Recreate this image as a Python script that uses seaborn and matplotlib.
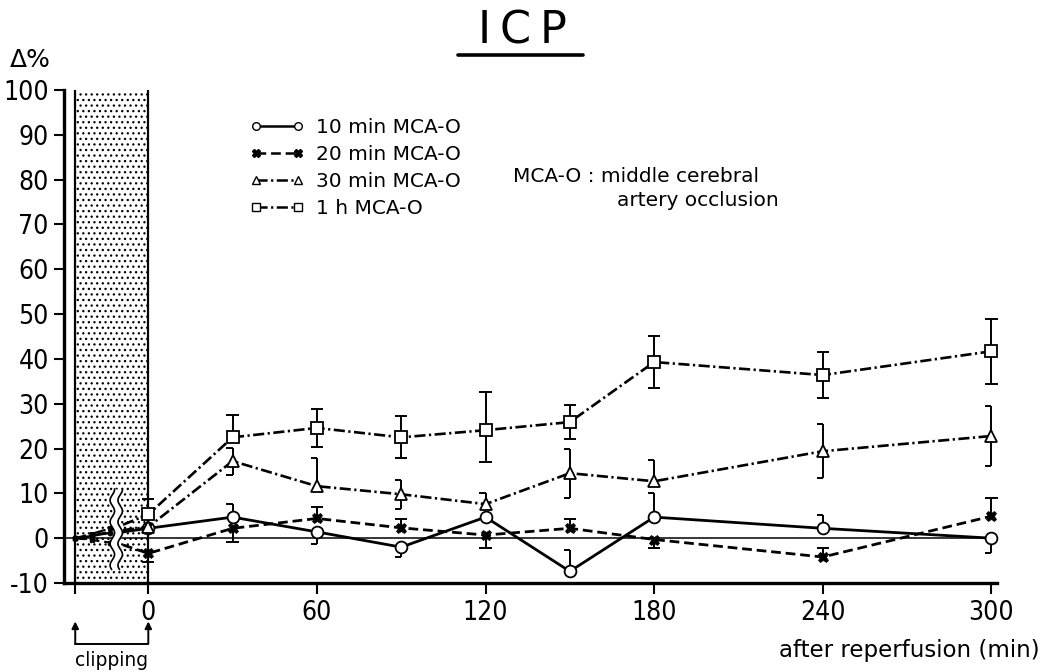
import numpy as np
import pandas as pd
import matplotlib
matplotlib.use("Agg")
import matplotlib.pyplot as plt
from matplotlib.lines import Line2D
import seaborn as sns

# Time after reperfusion (min)
minutes = [0, 30, 60, 90, 120, 150, 180, 240, 300]

# Mean change of intracranial pressure (%) by duration of MCA occlusion
icp_10min = [2.2, 4.7, 1.4, -2.0, 4.7, -7.4, 4.7, 2.2, 0.0]
icp_20min = [-3.4, 2.2, 4.4, 2.3, 0.7, 2.2, -0.3, -4.2, 4.9]
icp_30min = [2.5, 17.2, 11.6, 9.8, 7.6, 14.5, 12.7, 19.4, 22.8]
icp_1h = [5.3, 22.5, 24.6, 22.5, 24.1, 25.9, 39.3, 36.4, 41.7]

# Error bars (upper / lower extent, %)
err_10min_up = [0, 3.0, 0, 0, 0, 4.7, 5.3, 3.0, 0]
err_10min_dn = [0, 0, 2.7, 2.2, 0, 0, 0, 0, 3.4]
err_20min_up = [0, 0, 2.5, 2.0, 0, 2.0, 0, 2.0, 4.0]
err_20min_dn = [2.0, 3.0, 0, 0, 3.0, 0, 2.0, 0, 0]
err_30min_up = [0, 3.0, 6.3, 3.2, 2.4, 5.5, 4.7, 6.0, 6.8]
err_30min_dn = [0, 3.0, 0, 3.2, 0, 5.5, 0, 6.0, 6.8]
err_1h_up = [3.5, 5.0, 4.2, 4.7, 8.5, 3.8, 5.8, 5.1, 7.2]
err_1h_dn = [0, 0, 4.2, 4.7, 7.1, 3.8, 5.8, 5.1, 7.2]

# Clipping period (schematic time axis before reperfusion)
clip_start = -26
clip_minutes = [-26, -20, -13.5]
resume_minute = -9
clip_10min = [0, 0.5, 1.2]
clip_20min = [0, -0.4, -1.0]
clip_30min = [0, 0.6, 1.5]
clip_1h = [0, 1.0, 2.2]
resume_10min, resume_20min, resume_30min, resume_1h = 1.4, -1.5, 1.8, 3.0

labels = ["10 min MCA-O", "20 min MCA-O", "30 min MCA-O", "1 h MCA-O"]
x_ticks = [0, 60, 120, 180, 240, 300]
y_ticks = list(range(-10, 101, 10))

sns.set_theme(style="ticks")
plt.rcParams["font.family"] = ["DejaVu Sans"]
plt.rcParams["text.color"] = "black"
plt.rcParams["xtick.color"] = "black"
plt.rcParams["ytick.color"] = "black"
plt.rcParams["axes.edgecolor"] = "black"
plt.rcParams["lines.scale_dashes"] = False
plt.rcParams["hatch.linewidth"] = 0.9
plt.rcParams["hatch.color"] = "black"

W, H = 1046, 672
fig = plt.figure(figsize=(W / 100, H / 100), dpi=100)
ax = fig.add_axes([64 / W, 1 - 583 / H, (997 - 64) / W, (583 - 90) / H])
ax.set_xlim(-30, 302)
ax.set_ylim(-10, 100)

# stippled clipping band with its borders
ax.axvspan(clip_start, 0, facecolor="white", hatch="...", edgecolor="black",
           linewidth=0, zorder=0)
for xb in (clip_start, 0):
    ax.axvline(xb, color="black", lw=1.6, zorder=1)

# baseline at 0 %
ax.axhline(0, color="black", lw=1.1, zorder=1)

series = [
    dict(y=icp_10min, up=err_10min_up, dn=err_10min_dn, clip=clip_10min, resume=resume_10min,
         ls="-", marker="o", ms=8.5, mfc="white", mew=1.3, lw=2.0, cap="left"),
    dict(y=icp_20min, up=err_20min_up, dn=err_20min_dn, clip=clip_20min, resume=resume_20min,
         ls=(0, (7, 3.5)), marker="X", ms=7.5, mfc="black", mew=0.5, lw=2.0, cap="both"),
    dict(y=icp_30min, up=err_30min_up, dn=err_30min_dn, clip=clip_30min, resume=resume_30min,
         ls=(0, (8, 2.5, 1.6, 2.5)), marker="^", ms=8.5, mfc="white", mew=1.3, lw=1.9, cap="left"),
    dict(y=icp_1h, up=err_1h_up, dn=err_1h_dn, clip=clip_1h, resume=resume_1h,
         ls=(0, (8, 2.5, 1.6, 2.5)), marker="s", ms=8, mfc="white", mew=1.3, lw=1.9, cap="both"),
]

cap_w = 2.2
for s in series:
    # error bars
    for xv, yv, u, d in zip(minutes, s["y"], s["up"], s["dn"]):
        for e in (u, -d):
            if e == 0:
                continue
            ax.vlines(xv, yv, yv + e, color="black", lw=1.4, zorder=2, clip_on=False)
            if s["cap"] == "both":
                ax.hlines(yv + e, xv - cap_w, xv + cap_w, color="black", lw=1.4, zorder=2,
                          clip_on=False)
            else:
                ax.hlines(yv + e, xv - cap_w, xv, color="black", lw=1.4, zorder=2,
                          clip_on=False)

    # clipping phase
    sns.lineplot(x=clip_minutes, y=s["clip"], ax=ax, color="black", linestyle=s["ls"],
                 lw=s["lw"] * 0.8, marker=s["marker"], ms=3.5, mfc="black", mec="black",
                 errorbar=None, zorder=3)
    # after reperfusion
    xs = [resume_minute] + minutes
    ys = [s["resume"]] + s["y"]
    df = pd.DataFrame({"minute": xs, "icp": ys})
    sns.lineplot(data=df, x="minute", y="icp", ax=ax, color="black", linestyle=s["ls"],
                 lw=s["lw"], marker=s["marker"], ms=s["ms"], mfc=s["mfc"], mec="black",
                 mew=s["mew"], markevery=list(range(1, len(xs))), errorbar=None,
                 zorder=4, clip_on=False)

# wavy break marks in the clipping band
yy = np.linspace(-7, 11, 200)
wave = 0.8 * np.sin(yy * 1.3)
xl, xr = -12.8 + wave, -10.0 + wave
ax.fill_betweenx(yy, xl, xr, color="white", zorder=5, lw=0)
ax.plot(xl, yy, color="black", lw=1.2, zorder=6)
ax.plot(xr, yy, color="black", lw=1.2, zorder=6)

# axes styling
sns.despine(ax=ax)
for side in ("left", "bottom"):
    ax.spines[side].set_linewidth(2.4)
ax.set_xticks([clip_start] + x_ticks)
ax.set_xticklabels([""] + [str(t) for t in x_ticks])
ax.set_yticks(y_ticks)
ax.set_yticklabels([str(t) for t in y_ticks])
for lab in ax.get_xticklabels() + ax.get_yticklabels():
    lab.set_family("DejaVu Sans")
    lab.set_stretch("condensed")
    lab.set_fontsize(19)
ax.tick_params(axis="x", length=8, width=1.5, pad=4, colors="black")
ax.tick_params(axis="y", length=7, width=1.5, pad=4, colors="black")
ax.set_xlabel("")
ax.set_ylabel("")
ax.grid(False)

# clipping marker below the axis
tr = ax.get_xaxis_transform()
for xa in (clip_start, 0):
    ax.annotate("", xy=(xa, -0.078), xytext=(xa, -0.123), xycoords=tr, textcoords=tr,
                arrowprops=dict(arrowstyle="-|>", color="black", lw=1.4, mutation_scale=10,
                                shrinkA=0, shrinkB=0))
ax.plot([clip_start, 0], [-0.123, -0.123], color="black", lw=1.4, transform=tr, clip_on=False)
ax.text(clip_start / 2, -0.158, "clipping", transform=tr, ha="center", va="center",
        fontsize=13.5)

# legend
handles = [
    Line2D([], [], color="black", ls=s["ls"], lw=1.8, marker=s["marker"], ms=5.5,
           mfc=s["mfc"], mec="black", mew=1.0)
    for s in series
]
fig.legend(handles, labels, loc="upper left", bbox_to_anchor=(240 / W, 1 - 108 / H),
           frameon=False, numpoints=2, handlelength=2.7, handletextpad=0.55,
           labelspacing=0.4, borderpad=0, fontsize=14.5)

# title, axis texts and note
fig.text(522 / W, 1 - 31 / H, "I\u2009C\u2009P", ha="center", va="center", fontsize=32)
fig.add_artist(Line2D([458 / W, 583 / W], [1 - 55 / H, 1 - 55 / H], color="black", lw=2.6))
fig.text(10 / W, 1 - 60 / H, "Δ%", ha="left", va="center", fontsize=18)
fig.text(1040 / W, 1 - 650 / H, "after reperfusion (min)", ha="right", va="center",
         fontsize=16.5)
fig.text(513 / W, 1 - 176 / H, "MCA-O : middle cerebral", ha="left", va="center",
         fontsize=14.5)
fig.text(617 / W, 1 - 200 / H, "artery occlusion", ha="left", va="center", fontsize=14.5)

fig.savefig("out.png", dpi=100, facecolor="white")
